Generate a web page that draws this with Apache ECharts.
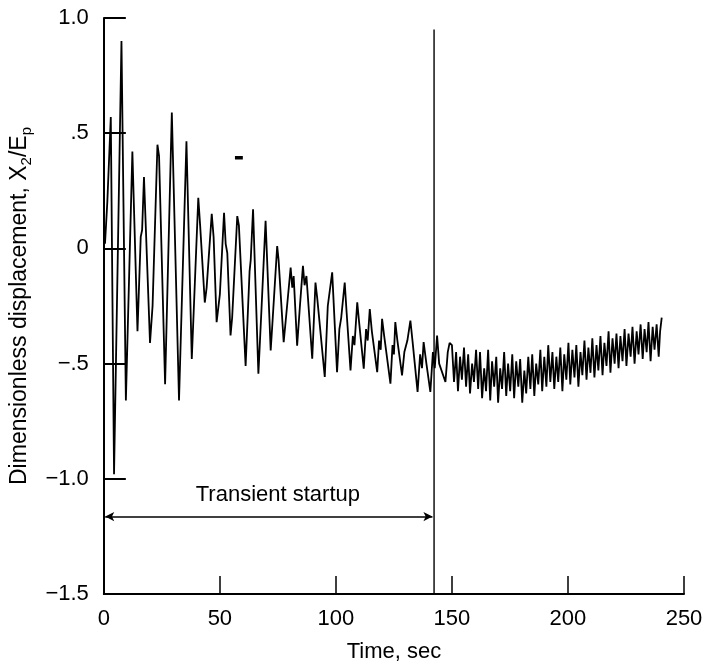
<!DOCTYPE html>
<html>
<head>
<meta charset="utf-8">
<script src="https://cdn.jsdelivr.net/npm/echarts@6/dist/echarts.min.js"></script>
<style>
html,body{margin:0;padding:0;background:#fff;}
#chart{width:720px;height:668px;}
</style>
</head>
<body>
<div id="chart"></div>
<script>
// ---- data ----
const time = [
  0.5, 1.5, 3.0, 4.4, 7.6, 9.5, 12.3, 14.5, 15.9, 16.5, 17.3, 19.9, 21.0, 23.1, 23.8, 26.4,
  29.3, 32.4, 35.6, 37.9, 40.7, 41.5, 43.5, 44.3, 46.5, 47.3, 48.6, 50.0, 51.8, 52.5, 53.2,
  54.6, 55.3, 57.5, 58.2, 61.1, 62.8, 63.3, 64.3, 66.6, 68.0, 69.7, 71.9, 72.8, 74.7, 75.3,
  77.5, 78.5, 80.5, 81.2, 81.8, 83.3, 84.5, 85.8, 86.5, 87.3, 89.8, 91.2, 92.0, 95.2, 96.5,
  98.4, 100.5, 101.5, 102.3, 103.8, 104.5, 106.3, 107.3, 108.0, 109.2, 110.0, 112.0, 113.0, 113.7, 114.6, 115.5,
  117.8, 118.6, 119.3, 119.9, 120.8, 123.5, 124.4, 125.0, 125.6, 126.5, 128.5, 129.5, 130.8, 132.1, 133.0, 135.2,
  136.3, 137.1, 137.8, 139.0, 140.7, 141.8, 142.6, 143.6, 144.5, 147.2, 148.2, 149.0,
  150.0, 150.9, 151.8, 152.6, 153.5, 154.3, 155.2, 156.1, 157.0, 157.8, 158.7, 159.5, 160.4,
  161.3, 162.1, 163.0, 163.9, 164.7, 165.6, 166.5, 167.3, 168.2, 169.1, 169.9, 170.8, 171.6,
  172.5, 173.4, 174.2, 175.1, 176.0, 176.8, 177.7, 178.6, 179.4, 180.3, 181.2, 182.0, 182.9,
  183.8, 184.6, 185.5, 186.3, 187.2, 188.1, 188.9, 189.8, 190.7, 191.5, 192.4, 193.3, 194.1,
  195.0, 195.8, 196.7, 197.6, 198.4, 199.3, 200.2, 201.0, 201.9, 202.8, 203.6, 204.5, 205.4,
  206.2, 207.1, 208.0, 208.8, 209.7, 210.5, 211.4, 212.3, 213.1, 214.0, 214.9, 215.7, 216.6,
  217.5, 218.3, 219.2, 220.1, 220.9, 221.8, 222.6, 223.5, 224.4, 225.2, 226.1, 227.0, 227.8,
  228.7, 229.6, 230.4, 231.3, 232.2, 233.0, 233.9, 234.7, 235.6, 236.5, 237.3, 238.2, 239.1,
  239.7, 240.4
];
const displacement = [
  0.02, 0.20, 0.57, -0.98, 0.90, -0.66, 0.42, -0.36, 0.05, 0.08, 0.31, -0.41, -0.25, 0.45, 0.40, -0.59,
  0.59, -0.66, 0.465, -0.48, 0.22, 0.10, -0.235, -0.17, 0.15, 0.05, -0.32, -0.20, 0.155, 0.02, -0.02,
  -0.378, -0.30, 0.14, 0.10, -0.51, -0.10, -0.05, 0.17, -0.544, -0.25, 0.12, -0.443, -0.30, 0.01, -0.05,
  -0.407, -0.30, -0.083, -0.17, -0.12, -0.422, -0.25, -0.076, -0.16, -0.12, -0.479, -0.148, -0.22, -0.558, -0.25,
  -0.104, -0.537, -0.35, -0.30, -0.148, -0.26, -0.53, -0.38, -0.42, -0.234, -0.32, -0.522, -0.35, -0.40, -0.263, -0.36,
  -0.537, -0.40, -0.44, -0.306, -0.38, -0.587, -0.42, -0.46, -0.32, -0.40, -0.551, -0.45, -0.40, -0.313, -0.40, -0.623,
  -0.46, -0.52, -0.407, -0.50, -0.623, -0.45, -0.52, -0.378, -0.50, -0.58, -0.45, -0.41,
  -0.42, -0.58, -0.45, -0.62, -0.47, -0.57, -0.43, -0.60, -0.46, -0.63, -0.50, -0.58, -0.44,
  -0.61, -0.45, -0.65, -0.52, -0.62, -0.44, -0.66, -0.49, -0.60, -0.47, -0.67, -0.52, -0.61,
  -0.45, -0.64, -0.50, -0.62, -0.46, -0.65, -0.49, -0.60, -0.48, -0.67, -0.53, -0.63, -0.47,
  -0.61, -0.46, -0.64, -0.50, -0.59, -0.44, -0.62, -0.47, -0.60, -0.42, -0.58, -0.45, -0.61,
  -0.47, -0.58, -0.43, -0.62, -0.46, -0.57, -0.41, -0.59, -0.44, -0.56, -0.42, -0.60, -0.45,
  -0.55, -0.40, -0.57, -0.43, -0.54, -0.39, -0.56, -0.42, -0.53, -0.38, -0.55, -0.41, -0.51,
  -0.36, -0.54, -0.39, -0.50, -0.37, -0.52, -0.38, -0.49, -0.35, -0.51, -0.37, -0.47, -0.34,
  -0.50, -0.36, -0.46, -0.33, -0.48, -0.35, -0.45, -0.32, -0.49, -0.34, -0.44, -0.33, -0.47,
  -0.36, -0.30
];

const xTicks = [0, 50, 100, 150, 200, 250];
const yTicks = [-1.5, -1.0, -0.5, 0, 0.5, 1.0];
const yTickLabels = ['\u22121.5', '\u22121.0', '\u2212.5', '0', '.5', '1.0'];

// annotations
const startupEndTime = 142.3;
const startupLineTop = 0.95;
const startupArrowY = -1.164;
const startupArrowStart = 0.6;
const startupArrowEnd = 141.6;
const startupLabel = 'Transient startup';
const startupLabelPos = [75, -1.072];
const markDashX = [56.5, 59.9];
const markDashY = 0.393;

// ---- chart ----
const FONT = 'Liberation Sans, Arial, Helvetica, sans-serif';
const chart = echarts.init(document.getElementById('chart'), null, {renderer: 'canvas'});

const mainData = time.map((t, i) => [t, displacement[i]]);

chart.setOption({
  animation: false,
  backgroundColor: '#ffffff',
  grid: {left: 103, right: 36, top: 18, bottom: 72, containLabel: false},
  xAxis: {
    type: 'value',
    min: xTicks[0], max: xTicks[xTicks.length - 1], interval: xTicks[1] - xTicks[0],
    name: 'Time, sec',
    nameLocation: 'middle',
    nameGap: 47,
    nameTextStyle: {fontFamily: FONT, fontSize: 22, color: '#000'},
    axisLine: {show: true, onZero: false, lineStyle: {color: '#000', width: 2}},
    axisTick: {show: true, inside: true, length: 18, lineStyle: {color: '#000', width: 1.5}},
    axisLabel: {fontFamily: FONT, fontSize: 22, color: '#000', margin: 14},
    splitLine: {show: false}
  },
  yAxis: {
    type: 'value',
    min: yTicks[0], max: yTicks[yTicks.length - 1], interval: 0.5,
    name: 'Dimensionless displacement, X{s|2}/E{s|p}',
    nameLocation: 'middle',
    nameGap: 59,
    nameTextStyle: {
      fontFamily: FONT, fontSize: 23, color: '#000',
      rich: {s: {fontFamily: FONT, fontSize: 15, color: '#000', padding: [15, 0, 0, 0]}}
    },
    axisLine: {show: true, onZero: false, lineStyle: {color: '#000', width: 2}},
    axisTick: {show: true, inside: true, length: 22, lineStyle: {color: '#000', width: 2}},
    axisLabel: {
      fontFamily: FONT, fontSize: 22, color: '#000', margin: 15,
      formatter: function (v) {
        const idx = Math.round((v - yTicks[0]) / 0.5);
        return yTickLabels[idx];
      }
    },
    splitLine: {show: false}
  },
  series: [
    {
      type: 'line',
      data: mainData,
      showSymbol: false,
      symbol: 'none',
      lineStyle: {color: '#000', width: 1.8},
      z: 3
    },
    {
      type: 'line',
      data: [[startupEndTime, yTicks[0]], [startupEndTime, startupLineTop]],
      symbol: 'none',
      lineStyle: {color: '#000', width: 1.4},
      markLine: {
        silent: true,
        symbol: ['arrow', 'arrow'],
        symbolSize: [7, 9],
        label: {show: false},
        lineStyle: {color: '#000', width: 1.6, type: 'solid'},
        data: [[
          {coord: [startupArrowStart, startupArrowY]},
          {coord: [startupArrowEnd, startupArrowY]}
        ]]
      }
    },
    {
      type: 'scatter',
      data: [startupLabelPos],
      symbolSize: 0,
      itemStyle: {opacity: 1},
      label: {
        show: true, position: 'inside',
        formatter: startupLabel,
        fontFamily: FONT, fontSize: 22, color: '#000', opacity: 1
      }
    },
    {
      type: 'line',
      data: [[markDashX[0], markDashY], [markDashX[1], markDashY]],
      symbol: 'none',
      lineStyle: {color: '#000', width: 3.5}
    }
  ]
});
</script>
</body>
</html>
